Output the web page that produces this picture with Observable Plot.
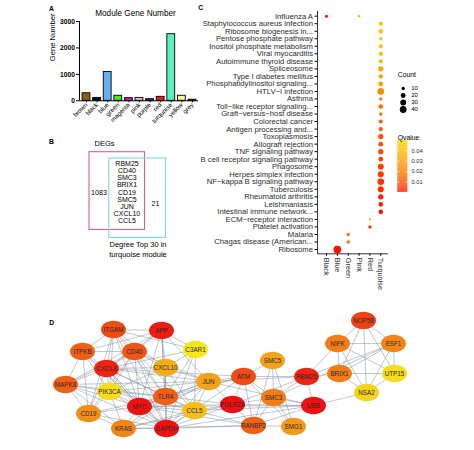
<!DOCTYPE html>
<html><head><meta charset="utf-8">
<script src="https://cdn.jsdelivr.net/npm/d3@7"></script>
<script src="https://cdn.jsdelivr.net/npm/@observablehq/plot@0.6"></script>
<style>
body{margin:0;background:#fff;}
#fig{position:relative;width:474px;height:450px;overflow:hidden;font-family:"Liberation Sans",Arial,sans-serif;background:#fff;}
.lbl{position:absolute;font-weight:bold;font-size:6.8px;line-height:1;color:#000;}
</style></head><body><div id="fig"></div>
<script>
// ---------- Panel A data ----------
const modules = ["brown","black","blue","green","magenta","pink","purple","red","turquoise","yellow","grey"];
const geneCounts = [285,110,1090,190,100,110,60,150,2520,190,40];
const moduleColors = ["#8b5c1e","#111111","#64b0f2","#3fee22","#d21dc8","#f7b5c8","#3e2e7e","#ee1c25","#5cf0c0","#f8f49a","#8c8c9c"];
const countTicks = [0,1000,2000,3000];

// ---------- Panel B data ----------
const degOnly = 1083;
const top30Only = 21;
const sharedGenes = ["RBM25","CD40","SMC3","BRIX1","CD19","SMC5","JUN","CXCL10","CCL5"];

// ---------- Panel C data ----------
const pathways = ["Influenza A","Staphylococcus aureus infection","Ribosome biogenesis in...","Pentose phosphate pathway","Inositol phosphate metabolism","Viral myocarditis","Autoimmune thyroid disease","Spliceosome","Type I diabetes mellitus","Phosphatidylinositol signaling...","HTLV\u2212I infection","Asthma","Toll\u2212like receptor signaling...","Graft\u2212versus\u2212host disease","Colorectal cancer","Antigen processing and...","Toxoplasmosis","Allograft rejection","TNF signaling pathway","B cell receptor signaling pathway","Phagosome","Herpes simplex infection","NF\u2212kappa B signaling pathway","Tuberculosis","Rheumatoid arthritis","Leishmaniasis","Intestinal immune network...","ECM\u2212receptor interaction","Platelet activation","Malaria","Chagas disease (American...","Ribosome"];
const enrichModules = ["Black","Blue","Green","Pink","Red","Turquoise"];
const turquoiseCount = [16,19,10,14,16,14,25,16,19,38,10,19,10,14,16,25,19,25,19,31,31,38,31,25,19,19];
const turquoiseQ = [0.046,0.045,0.044,0.042,0.040,0.037,0.034,0.032,0.030,0.025,0.021,0.017,0.015,0.013,0.012,0.010,0.009,0.008,0.007,0.006,0.005,0.004,0.003,0.002,0.002,0.001];
const otherModule = ["Black","Pink","Red","Red","Green","Green","Blue"];
const otherPathway = ["Influenza A","Influenza A","ECM\u2212receptor interaction","Platelet activation","Malaria","Chagas disease (American...","Ribosome"];
const otherCount = [8,5,4,10,10,11,52];
const otherQ = [0.001,0.038,0.036,0.005,0.016,0.019,0.001];
const countBreaks = [10,20,30,40];
const qBreaks = [0.01,0.02,0.03,0.04];
const qDomain = [0.0003,0.0497];

// ---------- Panel D data ----------
const genes = ["ITGAM","APP","ITPKB","CD40","C3AR1","CXCL8","CXCL10","MAPK8","PIK3CA","JUN","TLR4","MYC","CD19","CCL5","KRAS","GAPDH","NOP58","NIFK","ESF1","SMC5","ATM","RBM25","BRIX1","UTP15","NSA2","SMC3","POLR2A","UBB","RANBP2","SMG1"];
const geneScore = [24,29,22,23,8,28,14,22,9,15,22,30,17,12,18,30,25,19,18,15,24,28,19,9,10,19,30,30,22,16];
// network layout (positions from the layout algorithm)
const layoutX = [113,161,82,134,195,106,165,65,109,208,165,139,88,194,123,166,363,337,393,272,243,306,339,394,366,273,232,313,253,293];
const layoutY = [329,330,351,351,349,368,367,384,391,381,396,406,413,410,428,428,320,343,343,360,376,376,373,373,392,397,404,405,425,426];
const edges = [
["GAPDH","APP"],["GAPDH","ITGAM"],["GAPDH","ITPKB"],["GAPDH","CD40"],["GAPDH","CXCL8"],["GAPDH","CXCL10"],["GAPDH","MAPK8"],["GAPDH","PIK3CA"],["GAPDH","JUN"],["GAPDH","TLR4"],["GAPDH","MYC"],["GAPDH","CD19"],["GAPDH","CCL5"],["GAPDH","KRAS"],["GAPDH","C3AR1"],
["MYC","APP"],["MYC","ITGAM"],["MYC","CD40"],["MYC","CXCL8"],["MYC","MAPK8"],["MYC","PIK3CA"],["MYC","JUN"],["MYC","TLR4"],["MYC","CD19"],["MYC","KRAS"],["MYC","CCL5"],["MYC","ITPKB"],
["TLR4","APP"],["TLR4","ITGAM"],["TLR4","CD40"],["TLR4","CXCL8"],["TLR4","CXCL10"],["TLR4","MAPK8"],["TLR4","PIK3CA"],["TLR4","JUN"],["TLR4","CCL5"],["TLR4","CD19"],["TLR4","C3AR1"],["TLR4","KRAS"],
["CXCL8","APP"],["CXCL8","ITGAM"],["CXCL8","CD40"],["CXCL8","CXCL10"],["CXCL8","JUN"],["CXCL8","CCL5"],["CXCL8","ITPKB"],["CXCL8","MAPK8"],["CXCL8","PIK3CA"],["CXCL8","C3AR1"],["CXCL8","CD19"],
["APP","ITGAM"],["APP","CD40"],["APP","CXCL10"],["APP","C3AR1"],["APP","JUN"],["APP","MAPK8"],["APP","ITPKB"],
["ITGAM","CD40"],["ITGAM","ITPKB"],["ITGAM","C3AR1"],["ITGAM","CXCL10"],["ITGAM","CD19"],["ITGAM","PIK3CA"],
["CD40","CXCL10"],["CD40","CCL5"],["CD40","JUN"],["CD40","CD19"],["CD40","ITPKB"],["CD40","PIK3CA"],["CD40","MAPK8"],
["CXCL10","CCL5"],["CXCL10","C3AR1"],["CXCL10","JUN"],["CXCL10","PIK3CA"],
["JUN","CCL5"],["JUN","MAPK8"],["JUN","PIK3CA"],["JUN","KRAS"],
["MAPK8","PIK3CA"],["MAPK8","ITPKB"],["MAPK8","KRAS"],["MAPK8","CD19"],
["PIK3CA","KRAS"],["PIK3CA","CD19"],["PIK3CA","ITPKB"],["PIK3CA","CCL5"],
["CCL5","C3AR1"],["CCL5","KRAS"],["KRAS","CD19"],["ITPKB","CD19"],
["ATM","JUN"],["ATM","MYC"],["ATM","TLR4"],["ATM","GAPDH"],["ATM","CXCL8"],
["POLR2A","MYC"],["POLR2A","GAPDH"],["POLR2A","JUN"],["POLR2A","TLR4"],["POLR2A","CCL5"],["POLR2A","KRAS"],
["RANBP2","GAPDH"],["RANBP2","CCL5"],["RANBP2","MYC"],["RANBP2","KRAS"],
["UBB","GAPDH"],["UBB","MYC"],["UBB","JUN"],["UBB","CCL5"],["RBM25","JUN"],
["SMC5","ATM"],["SMC5","SMC3"],["SMC5","RANBP2"],["SMC5","SMG1"],
["ATM","SMC3"],["ATM","RANBP2"],["ATM","SMG1"],["ATM","POLR2A"],["ATM","RBM25"],
["SMC3","RANBP2"],["SMC3","SMG1"],["SMC3","UBB"],["SMC3","POLR2A"],["SMC3","RBM25"],
["RBM25","NIFK"],["RBM25","ESF1"],["RBM25","BRIX1"],["RBM25","POLR2A"],["RBM25","UBB"],
["RANBP2","SMG1"],["RANBP2","UBB"],["RANBP2","POLR2A"],["POLR2A","UBB"],["UBB","NSA2"],["SMC3","ESF1"],
["NOP58","NIFK"],["NOP58","ESF1"],["NOP58","BRIX1"],["NOP58","UTP15"],["NOP58","NSA2"],["NIFK","ESF1"],["NIFK","BRIX1"],["NIFK","UTP15"],["NIFK","NSA2"],["ESF1","BRIX1"],["ESF1","UTP15"],["ESF1","NSA2"],["BRIX1","UTP15"],["BRIX1","NSA2"],["UTP15","NSA2"]
];

// ---------- helpers ----------
const FONT = '"Liberation Sans", Arial, Helvetica, sans-serif';
const fig = document.getElementById("fig");
const baseStyle = {fontFamily: FONT, background: "transparent", overflow: "visible", color: "#000"};
function place(el, left, top) { el.style.position = "absolute"; el.style.left = left + "px"; el.style.top = top + "px"; fig.appendChild(el); }
function letter(t, left, top) { const s = document.createElement("div"); s.className = "lbl"; s.textContent = t; s.style.left = left + "px"; s.style.top = top + "px"; fig.appendChild(s); }

// ---------- Panel A ----------
const barData = modules.map((m, i) => ({i, module: m, count: geneCounts[i], color: moduleColors[i]}));
place(Plot.plot({
  width: 210, height: 140, marginLeft: 79, marginRight: 12, marginTop: 21, marginBottom: 39.7,
  x: {domain: [-0.66, 10.57]},
  y: {domain: [0, 3000]},
  color: {type: "identity"},
  style: baseStyle,
  marks: [
    Plot.rectY(barData, {x1: d => d.i - 0.37, x2: d => d.i + 0.37, y: "count", fill: "color", stroke: "#000", strokeWidth: 0.9}),
    Plot.ruleY([0], {stroke: "#000", strokeWidth: 1}),
    Plot.ruleX([-0.66], {stroke: "#000", strokeWidth: 1}),
    Plot.axisY({ticks: countTicks, tickFormat: d => String(d), tickSize: 3, tickPadding: 1.5, fontSize: 6.7, fontWeight: "bold", label: null}),
    Plot.axisX({ticks: d3.range(modules.length), tickFormat: i => modules[i], tickSize: 2, tickPadding: 1, tickRotate: -45, fontSize: 6.3, label: null}),
    Plot.text(["Gene Number"], {frameAnchor: "left", rotate: -90, dx: -27, fontSize: 7.6}),
    Plot.text(["Module Gene Number"], {frameAnchor: "top", dy: -11, dx: -3.5, fontSize: 8.2})
  ]
}), 0, 0);

// ---------- Panel B ----------
place(Plot.plot({
  width: 200, height: 140, margin: 0,
  x: {domain: [0, 200], range: [0, 200], axis: null},
  y: {domain: [130, 270], range: [0, 140], axis: null},
  style: baseStyle,
  marks: [
    Plot.rect([0], {x1: 89, x2: 144.5, y1: 151.7, y2: 229.5, fill: "none", stroke: "#dd5c97", strokeWidth: 1.1}),
    Plot.rect([0], {x1: 108.8, x2: 165.5, y1: 158, y2: 237.5, fill: "none", stroke: "#72e3c8", strokeWidth: 1.1}),
    Plot.text(["DEGs"], {x: 104, y: 143.3, fontSize: 7.5}),
    Plot.text([degOnly], {x: 98.5, y: 192, text: d => String(d), fontSize: 7.2}),
    Plot.text([top30Only], {x: 155, y: 203, text: d => String(d), fontSize: 7.2}),
    Plot.text(sharedGenes, {x: 126.5, y: (d, i) => 163.3 + i * 7.17, fontSize: 7, lineHeight: 0.9}),
    Plot.text(["Degree Top 30 in", "turquoise module"], {x: 137.5, y: (d, i) => 244 + i * 9.8, fontSize: 7.5})
  ]
}), 0, 130);

// ---------- Panel C ----------
const dots = [];
turquoiseCount.forEach((c, k) => dots.push({m: 5, p: k + 1, count: c, q: turquoiseQ[k]}));
otherModule.forEach((m, k) => dots.push({m: enrichModules.indexOf(m), p: pathways.indexOf(otherPathway[k]), count: otherCount[k], q: otherQ[k]}));
const colorOpts = {type: "linear", domain: qDomain, range: ["#ff0000", "#ffd700"], interpolate: "lab"};
const rOpts = {domain: [0, 40], range: [0, 3.4]};
place(Plot.plot({
  width: 240, height: 300, marginLeft: 157, marginRight: 12, marginTop: 11, marginBottom: 46.7,
  x: {domain: [-0.83, 5.71]},
  y: {domain: [31.57, -0.62]},
  r: rOpts,
  color: colorOpts,
  style: baseStyle,
  marks: [
    Plot.ruleX([-0.83], {stroke: "#000", strokeWidth: 0.8}),
    Plot.ruleY([31.57], {stroke: "#000", strokeWidth: 0.8}),
    Plot.axisY({ticks: d3.range(pathways.length), tickFormat: i => pathways[i], tickSize: 2.5, tickPadding: 2, fontSize: 7.7, fill: "#2b2b2b", label: null}),
    Plot.axisX({ticks: d3.range(enrichModules.length), tickFormat: i => enrichModules[i], tickSize: 2.5, tickPadding: 1.5, tickRotate: 90, fontSize: 7.3, fill: "#2b2b2b", label: null}),
    Plot.dot(dots, {x: "m", y: "p", r: "count", fill: "q"})
  ]
}), 160, 0);

// Count legend
place(Plot.plot({
  width: 50, height: 60, margin: 0,
  y: {type: "point", domain: countBreaks, range: [22.7, 53.3], axis: null},
  r: rOpts,
  style: baseStyle,
  marks: [
    Plot.text(["Count"], {frameAnchor: "top-left", dx: 7.3, dy: 11.7, textAnchor: "start", fontSize: 6.8}),
    Plot.dot(countBreaks, {y: d => d, r: d => d, fill: "#000", frameAnchor: "left", dx: 12.7}),
    Plot.text(countBreaks, {y: d => d, text: d => String(d), frameAnchor: "left", dx: 20.7, textAnchor: "start", fontSize: 6})
  ]
}), 390, 60);

// Qvalue legend
const qSteps = d3.range(80).map(k => qDomain[0] + k * (qDomain[1] - qDomain[0]) / 80);
const qStep = (qDomain[1] - qDomain[0]) / 80;
place(Plot.plot({
  width: 60, height: 75, marginLeft: 7.3, marginRight: 42.7, marginTop: 15, marginBottom: 8.3,
  x: {domain: [0, 1], axis: null},
  y: {domain: qDomain},
  color: colorOpts,
  style: baseStyle,
  marks: [
    Plot.rect(qSteps, {x1: 0, x2: 1, y1: d => d, y2: d => d + qStep * 1.05, fill: d => d + qStep / 2}),
    Plot.ruleY(qBreaks, {x1: 0, x2: 0.2, stroke: "#fff", strokeWidth: 0.7}),
    Plot.ruleY(qBreaks, {x1: 0.8, x2: 1, stroke: "#fff", strokeWidth: 0.7}),
    Plot.axisY({anchor: "right", ticks: qBreaks, tickFormat: d => d.toFixed(2), tickSize: 0, tickPadding: 3.7, fontSize: 5.8, fill: "#2b2b2b", label: null}),
    Plot.text(["Qvalue"], {frameAnchor: "top-left", dy: -5, textAnchor: "start", fontSize: 6.8})
  ]
}), 390, 125);

// ---------- Panel D ----------
const nodes = genes.map((g, i) => ({id: g, x: layoutX[i], y: layoutY[i], score: geneScore[i]}));
const byId = new Map(nodes.map(n => [n.id, n]));
const ellipse = {
  draw(context, size) {
    const ry = Math.sqrt(size / Math.PI), rx = ry * 1.42, k = 0.5523;
    context.moveTo(rx, 0);
    context.bezierCurveTo(rx, k * ry, k * rx, ry, 0, ry);
    context.bezierCurveTo(-k * rx, ry, -rx, k * ry, -rx, 0);
    context.bezierCurveTo(-rx, -k * ry, -k * rx, -ry, 0, -ry);
    context.bezierCurveTo(k * rx, -ry, rx, -k * ry, rx, 0);
    context.closePath();
  }
};
place(Plot.plot({
  width: 474, height: 150, margin: 0,
  x: {domain: [0, 474], range: [0, 474], axis: null},
  y: {domain: [300, 450], range: [0, 150], axis: null},
  color: {type: "linear", domain: [8, 30], range: ["#f6e61c", "#ee1111"]},
  style: baseStyle,
  marks: [
    Plot.link(edges, {x1: e => byId.get(e[0]).x, y1: e => byId.get(e[0]).y, x2: e => byId.get(e[1]).x, y2: e => byId.get(e[1]).y, stroke: "#7f8e9e", strokeWidth: 0.55, strokeOpacity: 0.9}),
    Plot.dot(nodes, {x: "x", y: "y", r: 8.8, symbol: ellipse, fill: "score"}),
    Plot.text(nodes, {x: "x", y: "y", text: "id", fontSize: 6.3, fill: "#2a2a2a"})
  ]
}), 0, 300);

// panel letters
letter("A", 49, 5.8);
letter("B", 49, 139.2);
letter("C", 198.3, 5.1);
letter("D", 49.3, 320.4);
</script></body></html>
